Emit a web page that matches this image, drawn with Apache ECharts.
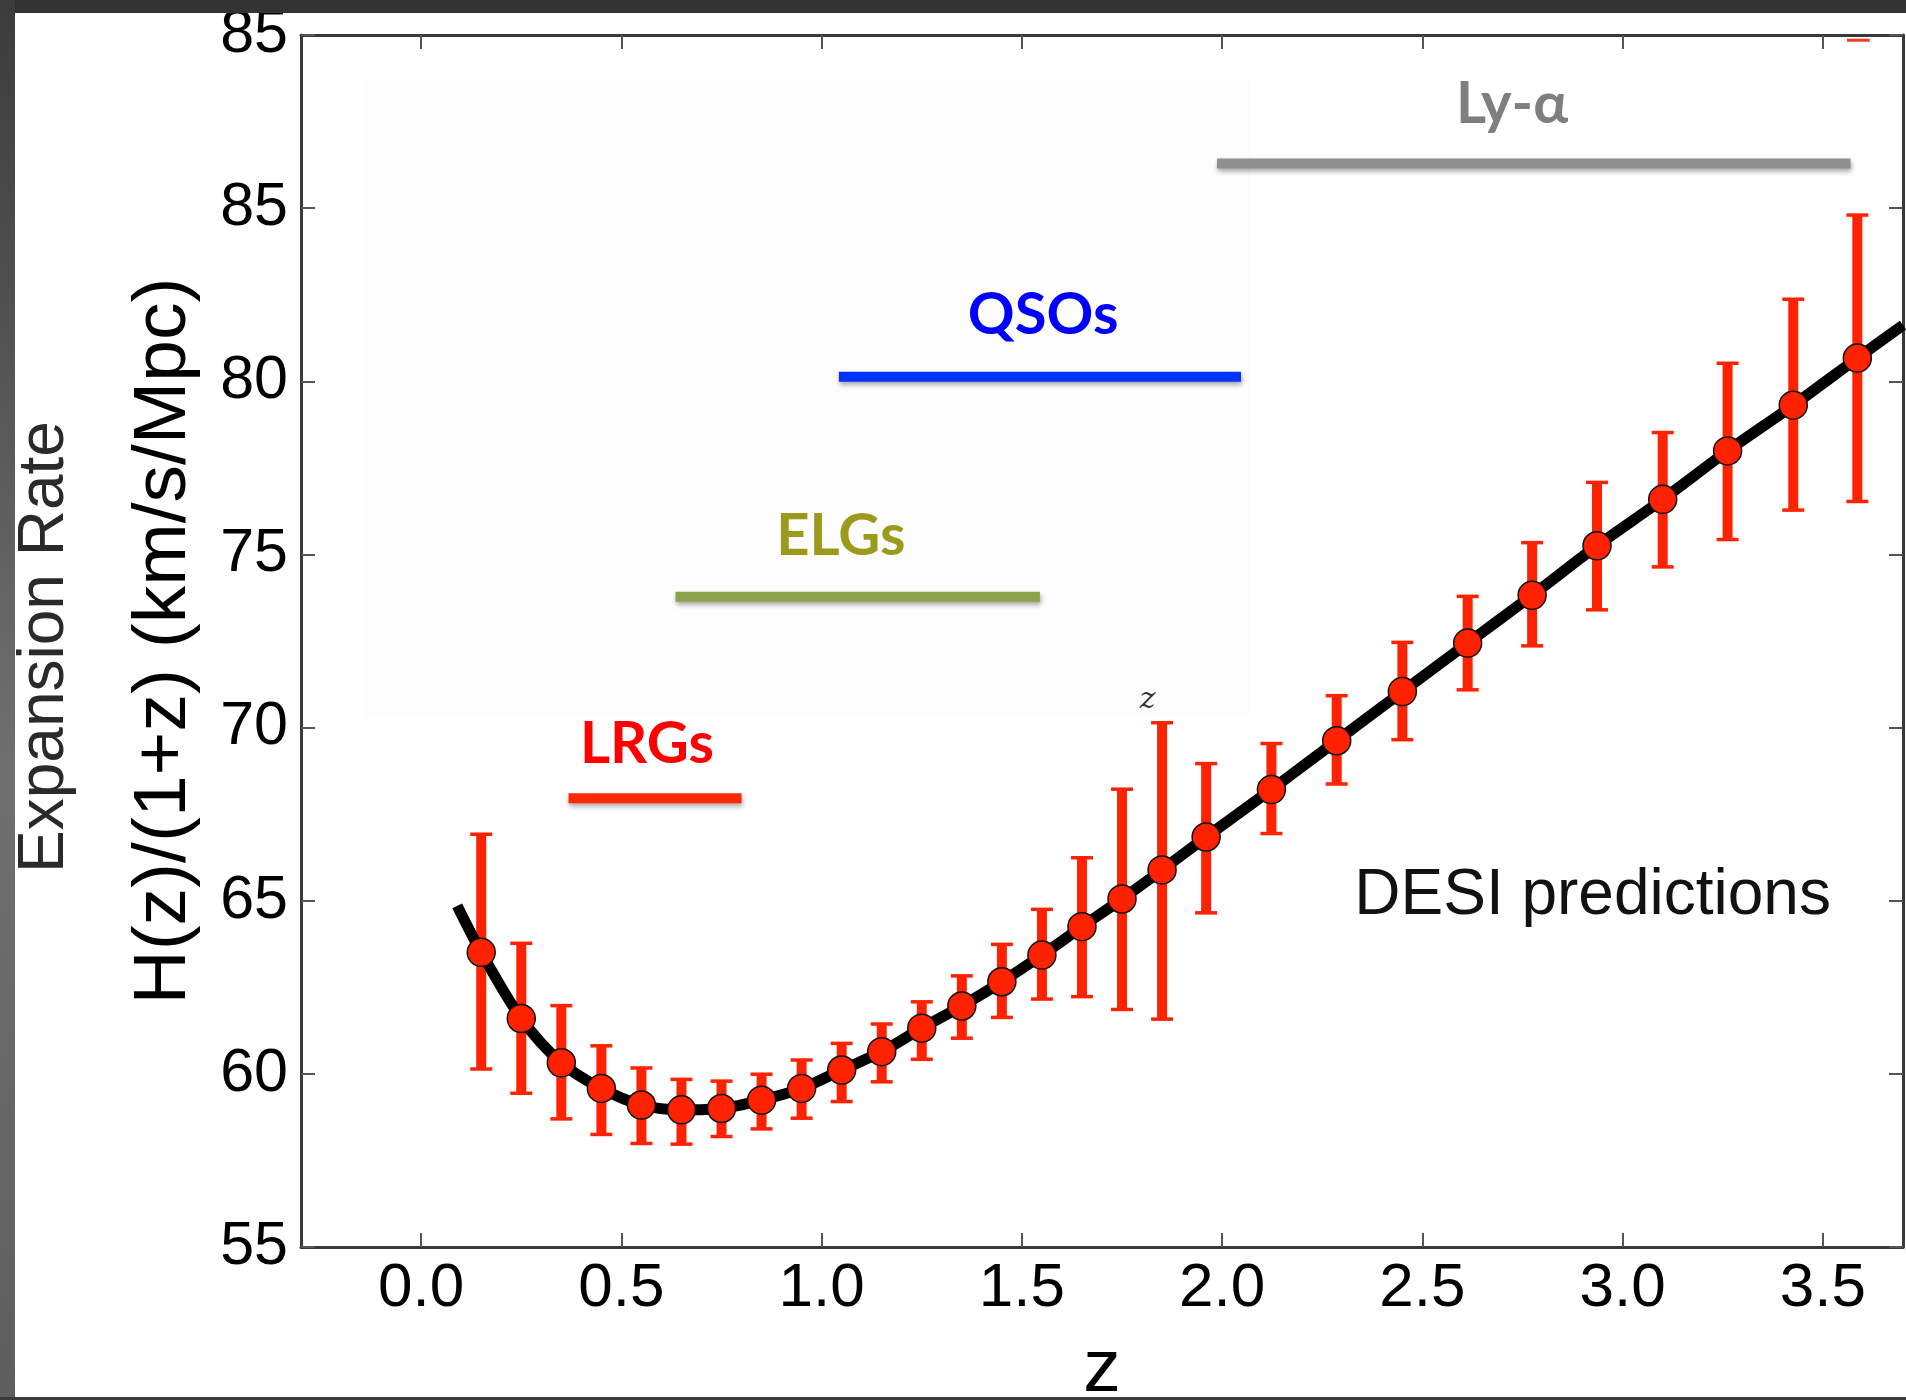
<!DOCTYPE html>
<html><head><meta charset="utf-8">
<script src="https://cdn.jsdelivr.net/npm/echarts@6/dist/echarts.min.js"></script>
<style>html,body{margin:0;padding:0;background:#fff}#chart{width:1906px;height:1400px}</style>
</head><body><div id="chart"></div>
<script>
// ---- tick labels ----
const xTicks = [0, 0.5, 1, 1.5, 2, 2.5, 3, 3.5];
const xTickLabels = ['0.0', '0.5', '1.0', '1.5', '2.0', '2.5', '3.0', '3.5'];
const yTicks = [55, 60, 65, 70, 75, 80, 85, 90];
const yTickLabels = ['55', '60', '65', '70', '75', '80', '85', '85'];

// ---- DESI predicted points H(z)/(1+z) with error bars ----
const zPts = [0.15, 0.25, 0.35, 0.45, 0.55, 0.65, 0.75, 0.85, 0.95, 1.05, 1.15, 1.25, 1.35, 1.45, 1.55, 1.65, 1.75, 1.85,
              1.96, 2.123, 2.286, 2.45, 2.613, 2.774, 2.936, 3.10, 3.262, 3.426, 3.586];
const hPts = [63.51, 61.60, 60.32, 59.58, 59.10, 58.96, 59.00, 59.24, 59.58, 60.11, 60.64, 61.32, 61.96, 62.66, 63.43, 64.25, 65.05, 65.89,
              66.84, 68.21, 69.62, 71.04, 72.44, 73.82, 75.25, 76.59, 77.99, 79.31, 80.67];
const hLow = [60.14, 59.44, 58.70, 58.25, 57.99, 57.97, 58.19, 58.41, 58.72, 59.20, 59.77, 60.42, 61.03, 61.63, 62.16, 62.23, 61.86, 61.58,
              64.65, 66.94, 68.37, 69.65, 71.09, 72.36, 73.40, 74.64, 75.43, 76.28, 76.53];
const hHigh = [66.92, 63.77, 61.97, 60.81, 60.17, 59.84, 59.79, 59.99, 60.40, 60.88, 61.44, 62.08, 62.83, 63.74, 64.75, 66.24, 68.22, 70.14,
               68.96, 69.54, 70.92, 72.46, 73.79, 75.34, 77.08, 78.52, 80.52, 82.37, 84.80];

// ---- model curve ----
const curveZ = [0.09, 0.15, 0.25, 0.35, 0.45, 0.55, 0.65, 0.75, 0.85, 0.95, 1.05, 1.15, 1.25, 1.35, 1.45, 1.55, 1.65, 1.75, 1.85,
                1.96, 2.123, 2.286, 2.45, 2.613, 2.774, 2.936, 3.10, 3.262, 3.426, 3.586, 3.70];
const curveH = [64.85, 63.51, 61.60, 60.32, 59.58, 59.10, 58.96, 59.00, 59.24, 59.58, 60.11, 60.64, 61.32, 61.96, 62.66, 63.43, 64.25, 65.05, 65.89,
                66.84, 68.21, 69.62, 71.04, 72.44, 73.82, 75.25, 76.59, 77.99, 79.31, 80.67, 81.62];

// ---- tracer redshift ranges ----
const surveyNames = ['LRGs', 'ELGs', 'QSOs', 'Ly-\u03B1'];
const surveyZmin = [0.368, 0.635, 1.043, 1.987];
const surveyZmax = [0.800, 1.545, 2.047, 3.569];
const surveyH = [67.96, 73.78, 80.13, 86.29];
const surveyLabelZ = [0.564, 1.048, 1.553, 2.724];
const surveyLabelH = [69.52, 75.51, 81.92, 88.0];

// ---- other annotations ----
const noteTexts = ['DESI predictions', 'z'];
const noteZ = [2.925, 1.814];
const noteH = [65.14, 70.80];
const strayZ = [3.560, 3.617];
const strayH = [89.85, 89.85];

const surveyTextColors = ['#ff0000', '#9c9a1c', '#0000ff', '#7f7f7f'];
const surveyBarColors = ['#ff2a00', '#8ba34c', '#0033ff', '#8f8f8f'];
const FONT = '"Liberation Sans", Arial, Helvetica, sans-serif';

const chart = echarts.init(document.getElementById('chart'), null, {renderer: 'canvas'});

function xLab(v) {
  for (let i = 0; i < xTicks.length; i++) if (Math.abs(xTicks[i] - v) < 1e-6) return xTickLabels[i];
  return '';
}
function yLab(v) {
  for (let i = 0; i < yTicks.length; i++) if (Math.abs(yTicks[i] - v) < 1e-6) return yTickLabels[i];
  return '';
}

const axisLineStyle = {color: '#3a3a3a', width: 3};
const tickStyle = {color: '#555', width: 2};

const option = {
  backgroundColor: '#ffffff',
  animation: false,
  grid: {left: 301, right: 3, top: 35, bottom: 153, containLabel: false, outerBoundsMode: 'none'},
  xAxis: [{
    type: 'value', min: -0.3, max: 3.7, position: 'bottom',
    name: 'z', nameLocation: 'middle', nameGap: 86,
    nameTextStyle: {fontFamily: FONT, fontSize: 75, color: '#000'},
    axisLine: {show: true, onZero: false, lineStyle: axisLineStyle},
    axisTick: {show: true, inside: true, length: 14, lineStyle: tickStyle, customValues: xTicks},
    axisLabel: {show: true, margin: 11, fontFamily: FONT, fontSize: 62, color: '#000', customValues: xTicks, formatter: xLab},
    splitLine: {show: false}
  }, {
    type: 'value', min: -0.3, max: 3.7, position: 'top',
    axisLine: {show: true, onZero: false, lineStyle: axisLineStyle},
    axisTick: {show: true, inside: true, length: 14, lineStyle: tickStyle, customValues: xTicks},
    axisLabel: {show: false},
    splitLine: {show: false}
  }],
  yAxis: [{
    type: 'value', min: 55, max: 90, position: 'left',
    name: 'H(z)/(1+z) (km/s/Mpc)', nameLocation: 'middle', nameGap: 99,
    nameTextStyle: {fontFamily: FONT, fontSize: 75, color: '#000'},
    axisLine: {show: true, onZero: false, lineStyle: axisLineStyle},
    axisTick: {show: true, inside: true, length: 14, lineStyle: tickStyle, customValues: yTicks},
    axisLabel: {show: true, margin: 13, fontFamily: FONT, fontSize: 61, color: '#000', customValues: yTicks, formatter: yLab},
    splitLine: {show: false}
  }, {
    type: 'value', min: 55, max: 90, position: 'right',
    axisLine: {show: true, onZero: false, lineStyle: axisLineStyle},
    axisTick: {show: true, inside: true, length: 14, lineStyle: tickStyle, customValues: yTicks},
    axisLabel: {show: false},
    splitLine: {show: false}
  }],
  graphic: [
    {type: 'rect', z: 100, shape: {x: 0, y: 0, width: 1906, height: 13}, style: {fill: '#333333'}},
    {type: 'rect', z: 100, shape: {x: 0, y: 0, width: 15, height: 1400},
      style: {fill: new echarts.graphic.LinearGradient(0, 0, 0, 1, [
        {offset: 0, color: '#3c3c3c'}, {offset: 0.55, color: '#707070'}, {offset: 1, color: '#5e5e5e'}])}},
    {type: 'rect', z: 100, shape: {x: 0, y: 1397, width: 1906, height: 3}, style: {fill: '#3a3a3a'}},
    {type: 'text', z: 50, x: 77, y: 647, rotation: Math.PI / 2,
      style: {text: 'Expansion Rate', font: '64px ' + FONT, fill: '#2a2a2a', align: 'center', verticalAlign: 'bottom'}}
  ],
  series: [
    {
      type: 'line', name: 'bg', data: [], silent: true,
      markArea: {silent: true, itemStyle: {color: '#fdfdfd'},
        data: [[{coord: [-0.14, 88.7]}, {coord: [2.07, 70.3]}]]}
    },
    {
      type: 'custom', name: 'surveys', z: 4, silent: true,
      data: surveyNames.map((n, i) => [surveyZmin[i], surveyZmax[i], surveyH[i], surveyLabelZ[i], surveyLabelH[i]]),
      encode: {x: [0, 1, 3], y: [2, 4]},
      renderItem: function (params, api) {
        const i = params.dataIndex;
        const p1 = api.coord([api.value(0), api.value(2)]);
        const p2 = api.coord([api.value(1), api.value(2)]);
        const pt = api.coord([api.value(3), api.value(4)]);
        return {type: 'group', children: [
          {type: 'line', shape: {x1: p1[0], y1: p1[1], x2: p2[0], y2: p2[1]},
            style: {stroke: surveyBarColors[i], lineWidth: 10, lineCap: 'butt',
              shadowBlur: 5, shadowColor: 'rgba(0,0,0,0.35)', shadowOffsetX: 1, shadowOffsetY: 3}},
          {type: 'text', x: pt[0], y: pt[1],
            style: {text: surveyNames[i], font: 'bold 58px Lato, "Open Sans", sans-serif', fill: surveyTextColors[i],
              align: 'center', verticalAlign: 'middle'}}
        ]};
      }
    },
    {
      type: 'custom', name: 'notes', z: 4, silent: true,
      data: noteTexts.map((t, i) => [noteZ[i], noteH[i]]),
      encode: {x: 0, y: 1},
      renderItem: function (params, api) {
        const i = params.dataIndex;
        const p = api.coord([api.value(0), api.value(1)]);
        const font = i === 0 ? ('64px ' + FONT) : ('italic 30px "DejaVu Serif", serif');
        return {type: 'text', x: p[0], y: p[1],
          style: {text: noteTexts[i], font: font, fill: i === 0 ? '#111' : '#333', align: 'center', verticalAlign: 'middle'}};
      }
    },
    {
      type: 'custom', name: 'errors', z: 5, silent: true,
      data: zPts.map((z, i) => [z, hLow[i], hHigh[i]]),
      encode: {x: 0, y: [1, 2]},
      renderItem: function (params, api) {
        const lo = api.coord([api.value(0), api.value(1)]);
        const hi = api.coord([api.value(0), api.value(2)]);
        const cw = 11;
        const st = {stroke: '#ff2200', lineWidth: 10};
        const cs = {stroke: '#ff2200', lineWidth: 3.5};
        return {type: 'group', children: [
          {type: 'line', shape: {x1: lo[0], y1: lo[1], x2: hi[0], y2: hi[1]}, style: st},
          {type: 'line', shape: {x1: lo[0] - cw, y1: lo[1], x2: lo[0] + cw, y2: lo[1]}, style: cs},
          {type: 'line', shape: {x1: hi[0] - cw, y1: hi[1], x2: hi[0] + cw, y2: hi[1]}, style: cs}
        ]};
      }
    },
    {
      type: 'line', name: 'stray', z: 5, silent: true, showSymbol: false,
      data: strayZ.map((z, i) => [z, strayH[i]]),
      lineStyle: {color: '#ff3a1a', width: 3}
    },
    {
      type: 'line', name: 'model', z: 6, silent: true, showSymbol: false, smooth: 0.3, clip: true,
      data: curveZ.map((z, i) => [z, curveH[i]]),
      lineStyle: {color: '#000', width: 11}
    },
    {
      type: 'scatter', name: 'DESI', z: 7, silent: true,
      data: zPts.map((z, i) => [z, hPts[i]]),
      symbol: 'circle', symbolSize: 28,
      itemStyle: {color: '#ff2200', borderColor: '#111', borderWidth: 1.5, opacity: 1}
    }
  ]
};
chart.setOption(option);
</script>
</body></html>
